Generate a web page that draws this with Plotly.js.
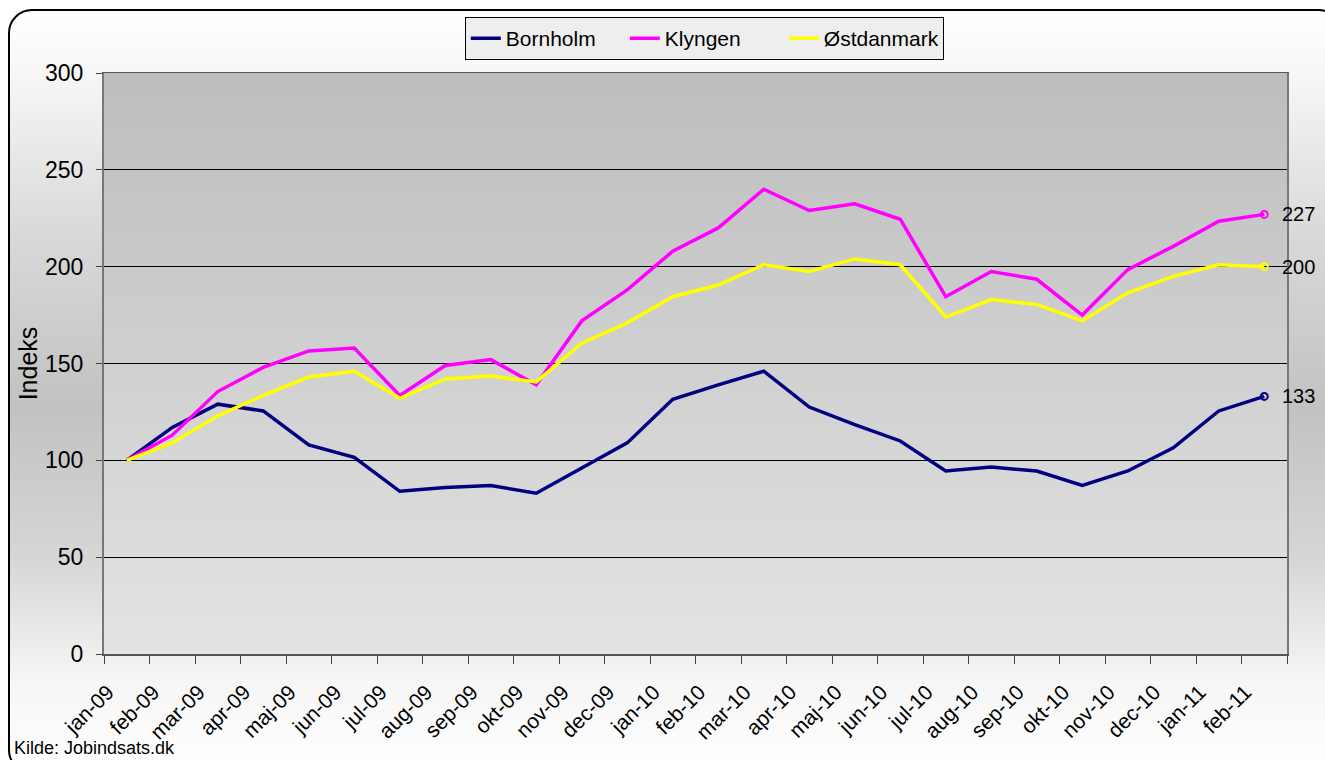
<!DOCTYPE html>
<html>
<head>
<meta charset="utf-8">
<script src="https://cdn.plot.ly/plotly-3.0.1.min.js"></script>
<style>
  html, body { margin: 0; padding: 0; width: 1325px; height: 760px; overflow: hidden; background: #fff; }
  #ramme {
    position: absolute; left: 8px; top: 9px; width: 1335px; height: 765px;
    border: 2px solid #000; border-radius: 24px; box-sizing: border-box;
    background: linear-gradient(to bottom, #ffffff 0%, #f7f7f7 8%, #d8d8d8 30%, #c2c2c2 52%, #d6d6d6 72%, #f6f6f6 88%, #ffffff 100%);
  }
  #graf { position: absolute; left: 0; top: 0; width: 1325px; height: 760px; }
</style>
</head>
<body>
<div id="ramme"></div>
<div id="graf"></div>
<script>
// måneder jan-09 .. feb-11
let maaneder = ['jan-09', 'feb-09', 'mar-09', 'apr-09', 'maj-09', 'jun-09', 'jul-09', 'aug-09', 'sep-09',
  'okt-09', 'nov-09', 'dec-09', 'jan-10', 'feb-10', 'mar-10', 'apr-10', 'maj-10', 'jun-10', 'jul-10',
  'aug-10', 'sep-10', 'okt-10', 'nov-10', 'dec-10', 'jan-11', 'feb-11'];

let bornholm = [100, 117, 129, 125.5, 108, 101.5, 84, 86, 87, 83, 96, 109, 131.5, 139, 146,
  127.5, 118.5, 110, 94.5, 96.5, 94.5, 87, 94.5, 106.5, 125.5, 133];

let klyngen = [100, 113, 135.5, 148, 156.5, 158, 133.5, 149, 152, 139, 172, 188, 208, 220, 240,
  229, 232.5, 224.5, 184.5, 197.5, 193.5, 175, 198.5, 210.5, 223.5, 227];

let oestdanmark = [100, 109, 123, 133.5, 143, 146, 132, 142, 143.5, 140.5, 160.5, 171, 184.5, 190.5, 201,
  197.5, 204, 201, 174, 183, 180.5, 172, 186.5, 195, 201, 200];

let serier = [
  { navn: 'Bornholm', y: bornholm, farve: '#000080' },
  { navn: 'Klyngen', y: klyngen, farve: '#ff00ff' },
  { navn: 'Østdanmark', y: oestdanmark, farve: '#ffff00' }
];

let font_navn = 'Arial, "Liberation Sans", sans-serif';

let data = [];
serier.forEach(s => {
  data.push({
    x: maaneder,
    y: s.y,
    name: s.navn,
    type: 'scatter',
    mode: 'lines',
    line: { color: s.farve, width: 3.5 },
    hoverinfo: 'x+y+name'
  });
});

// åben cirkel ved sidste punkt
serier.forEach(s => {
  let n = s.y.length - 1;
  data.push({
    x: [maaneder[n]],
    y: [s.y[n]],
    type: 'scatter',
    mode: 'markers',
    marker: { symbol: 'circle-open', size: 7, color: s.farve, line: { width: 2, color: s.farve } },
    showlegend: false,
    cliponaxis: false,
    hoverinfo: 'skip'
  });
});

let etiketter = serier.map(s => {
  let n = s.y.length - 1;
  return {
    x: maaneder[n], y: s.y[n], xref: 'x', yref: 'y',
    text: String(Math.round(s.y[n])),
    showarrow: false, xanchor: 'left', yanchor: 'middle', xshift: 16,
    font: { family: font_navn, size: 20, color: '#000' }
  };
});

etiketter.push({
  text: 'Kilde: Jobindsats.dk', xref: 'paper', yref: 'paper',
  x: -0.0777, y: -0.161, xanchor: 'left', yanchor: 'middle', showarrow: false,
  font: { family: font_navn, size: 18, color: '#000' }
});

let gradient_svg = '<svg xmlns="http://www.w3.org/2000/svg" width="100" height="100" preserveAspectRatio="none">' +
  '<defs><linearGradient id="g" x1="0" y1="0" x2="0" y2="1">' +
  '<stop offset="0" stop-color="#bdbdbd"/><stop offset="1" stop-color="#e3e3e3"/>' +
  '</linearGradient></defs><rect width="100" height="100" fill="url(#g)"/></svg>';

let forme = {
  width: 1325,
  height: 760,
  margin: { l: 104, r: 38, t: 73, b: 106 },
  paper_bgcolor: 'rgba(0,0,0,0)',
  plot_bgcolor: 'rgba(0,0,0,0)',
  font: { family: font_navn, color: '#000' },
  showlegend: true,
  legend: {
    orientation: 'h', x: 0.305, y: 1.0964, xanchor: 'left', yanchor: 'top',
    entrywidth: 114,
    bgcolor: '#eeeeee', bordercolor: '#000', borderwidth: 1,
    font: { family: font_navn, size: 21, color: '#000' }
  },
  xaxis: {
    type: 'category',
    range: [-0.5, 25.5],
    tickson: 'boundaries',
    ticks: 'outside', ticklen: 8, tickcolor: '#444',
    tickangle: -45,
    ticklabelstandoff: 16,
    ticklabelshift: -19,
    tickfont: { family: font_navn, size: 21, color: '#000' },
    showgrid: false,
    showline: true, linecolor: '#555', linewidth: 1.5, mirror: true,
    fixedrange: true
  },
  yaxis: {
    range: [0, 300],
    dtick: 50,
    ticks: 'outside', ticklen: 6, tickcolor: '#444',
    ticklabelstandoff: 8,
    tickfont: { family: font_navn, size: 23, color: '#000' },
    showgrid: true, gridcolor: '#000', gridwidth: 1,
    zeroline: false,
    showline: true, linecolor: '#777', linewidth: 2, mirror: true,
    title: { text: 'Indeks', font: { family: font_navn, size: 25, color: '#000' }, standoff: 0 },
    fixedrange: true
  },
  annotations: etiketter,
  images: [{
    source: 'data:image/svg+xml;charset=utf-8,' + encodeURIComponent(gradient_svg),
    xref: 'paper', yref: 'paper', x: 0, y: 1, sizex: 1, sizey: 1,
    xanchor: 'left', yanchor: 'top', sizing: 'stretch', layer: 'below'
  }]
};

Plotly.newPlot('graf', data, forme, { displayModeBar: false, staticPlot: true });
</script>
</body>
</html>
